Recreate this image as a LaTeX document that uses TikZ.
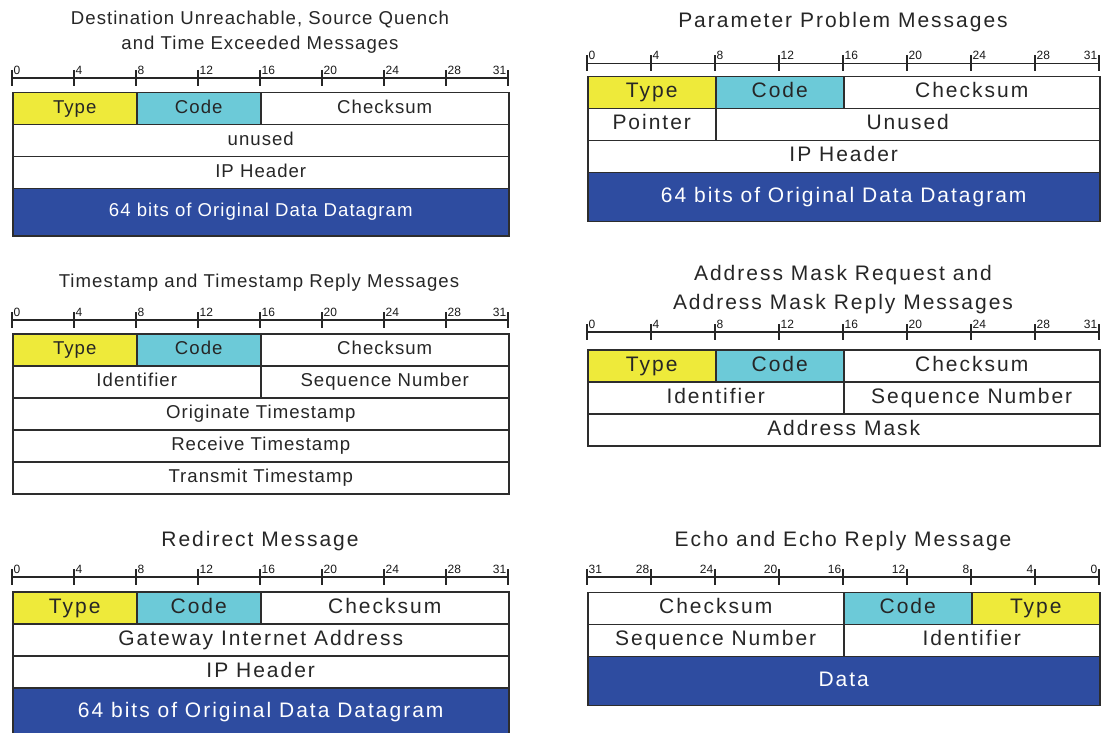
\documentclass[tikz,border=0pt]{standalone}
\usepackage{fontspec}
\setmainfont{Liberation Sans}
\newfontfamily\bigsans[LetterSpace=9.5]{Liberation Sans}
\newfontfamily\smallsans[LetterSpace=5.5]{Liberation Sans}

\definecolor{icmpyellow}{RGB}{238,234,58}
\definecolor{icmpcyan}{RGB}{108,202,216}
\definecolor{icmpblue}{RGB}{46,76,160}
\definecolor{fieldline}{RGB}{45,45,45}

\tikzset{
  field/.style={draw=fieldline, line width=1.5pt, inner sep=0pt, anchor=north west,
    minimum height=32pt, text=black!85},
  typefld/.style={field, fill=icmpyellow},
  codefld/.style={field, fill=icmpcyan},
  datafld/.style={field, fill=icmpblue, text=white},
  bigtxt/.style={font=\bigsans\fontsize{21}{29}\selectfont, text height=15pt, text depth=4.5pt},
  smalltxt/.style={font=\smallsans\fontsize{18.6}{25}\selectfont, text height=13.5pt, text depth=4pt},
  msgtitle/.style={align=center, inner sep=0pt, text=black!85},
  rulerline/.style={line width=1.2pt, black!85},
  bitlabel/.style={font=\fontsize{12}{12}\selectfont, inner sep=0pt, text=black!90}
}

% bit ruler 0..31, left to right: name, x, y, width of one bit
\newcommand{\bitruler}[4]{%
  \draw[rulerline] (#2,#3) -- ({#2+32*#4},#3);
  \foreach \k in {0,...,8}{
    \draw[rulerline] ({#2+4*\k*#4},#3-8) -- ({#2+4*\k*#4},#3+8);}
  \foreach \i in {0,4,...,28}
    \node[bitlabel,anchor=base west] (#1-\i) at ({#2+\i*#4+1.5},#3-3.5) {\i};
  \node[bitlabel,anchor=base east] (#1-31) at ({#2+32*#4-1.5},#3-3.5) {31};
}
% bit ruler 31..0, left to right
\newcommand{\revruler}[4]{%
  \draw[rulerline] (#2,#3) -- ({#2+32*#4},#3);
  \foreach \k in {0,...,8}{
    \draw[rulerline] ({#2+4*\k*#4},#3-8) -- ({#2+4*\k*#4},#3+8);}
  \node[bitlabel,anchor=base west] (#1-31) at ({#2+1.5},#3-3.5) {31};
  \foreach \k [evaluate=\k as \b using int(32-4*\k)] in {1,...,8}
    \node[bitlabel,anchor=base east] (#1-\b) at ({#2+4*\k*#4-1.5},#3-3.5) {\b};
}

\begin{document}
\begin{tikzpicture}[x=1pt,y=-1pt]
  \useasboundingbox (0,0) rectangle (1104,733);
  \clip (0,0) rectangle (1104,733);

  % Destination Unreachable
  \node[msgtitle,smalltxt,text height=,text depth=] (du-title) at (260,32.5)
    {Destination Unreachable, Source Quench\\and Time Exceeded Messages};
  \bitruler{du}{12}{78}{15.5}
  \node[typefld,smalltxt,minimum width=124pt] (du-type) at (12,92) {Type};
  \node[codefld,smalltxt,minimum width=124pt] (du-code) at (136,92) {Code};
  \node[field,smalltxt,minimum width=248pt] (du-sum) at (260,92) {Checksum};
  \node[field,smalltxt,minimum width=496pt] (du-unused) at (12,124) {unused};
  \node[field,smalltxt,minimum width=496pt] (du-iphdr) at (12,156) {IP Header};
  \node[datafld,smalltxt,minimum width=496pt,minimum height=47pt] (du-data) at (12,188)
    {64 bits of Original Data Datagram};

  % Parameter Problem
  \node[msgtitle,bigtxt,text height=,text depth=] (pp-title) at (843,22) {Parameter Problem Messages};
  \bitruler{pp}{587}{63.5}{16}
  \node[typefld,bigtxt,minimum width=128pt] (pp-type) at (587,76) {Type};
  \node[codefld,bigtxt,minimum width=128pt] (pp-code) at (715,76) {Code};
  \node[field,bigtxt,minimum width=256pt] (pp-sum) at (843,76) {Checksum};
  \node[field,bigtxt,minimum width=128pt] (pp-ptr) at (587,108) {Pointer};
  \node[field,bigtxt,minimum width=384pt] (pp-unused) at (715,108) {Unused};
  \node[field,bigtxt,minimum width=512pt] (pp-iphdr) at (587,140) {IP Header};
  \node[datafld,bigtxt,minimum width=512pt,minimum height=49pt] (pp-data) at (587,172)
    {64 bits of Original Data Datagram};

  % Timestamp
  \node[msgtitle,smalltxt,text height=,text depth=] (ts-title) at (259,283)
    {Timestamp and Timestamp Reply Messages};
  \bitruler{ts}{12}{320}{15.5}
  \node[typefld,smalltxt,minimum width=124pt] (ts-type) at (12,333) {Type};
  \node[codefld,smalltxt,minimum width=124pt] (ts-code) at (136,333) {Code};
  \node[field,smalltxt,minimum width=248pt] (ts-sum) at (260,333) {Checksum};
  \node[field,smalltxt,minimum width=248pt] (ts-id) at (12,365) {Identifier};
  \node[field,smalltxt,minimum width=248pt] (ts-seq) at (260,365) {Sequence Number};
  \node[field,smalltxt,minimum width=496pt] (ts-orig) at (12,397) {Originate Timestamp};
  \node[field,smalltxt,minimum width=496pt] (ts-recv) at (12,429) {Receive Timestamp};
  \node[field,smalltxt,minimum width=496pt] (ts-xmit) at (12,461) {Transmit Timestamp};

  % Address Mask
  \node[msgtitle,bigtxt,text height=,text depth=] (am-title) at (843,289.5)
    {Address Mask Request and\\Address Mask Reply Messages};
  \bitruler{am}{587}{332}{16}
  \node[typefld,bigtxt,minimum width=128pt] (am-type) at (587,349) {Type};
  \node[codefld,bigtxt,minimum width=128pt] (am-code) at (715,349) {Code};
  \node[field,bigtxt,minimum width=256pt] (am-sum) at (843,349) {Checksum};
  \node[field,bigtxt,minimum width=256pt] (am-id) at (587,381) {Identifier};
  \node[field,bigtxt,minimum width=256pt] (am-seq) at (843,381) {Sequence Number};
  \node[field,bigtxt,minimum width=512pt] (am-mask) at (587,413) {Address Mask};

  % Redirect
  \node[msgtitle,bigtxt,text height=,text depth=] (rd-title) at (260,541) {Redirect Message};
  \bitruler{rd}{12}{577}{15.5}
  \node[typefld,bigtxt,minimum width=124pt] (rd-type) at (12,591) {Type};
  \node[codefld,bigtxt,minimum width=124pt] (rd-code) at (136,591) {Code};
  \node[field,bigtxt,minimum width=248pt] (rd-sum) at (260,591) {Checksum};
  \node[field,bigtxt,minimum width=496pt] (rd-gw) at (12,623) {Gateway Internet Address};
  \node[field,bigtxt,minimum width=496pt] (rd-iphdr) at (12,655) {IP Header};
  \node[datafld,bigtxt,minimum width=496pt,minimum height=54pt] (rd-data) at (12,687)
    {\raisebox{2.5pt}{64 bits of Original Data Datagram}};

  % Echo
  \node[msgtitle,bigtxt,text height=,text depth=] (ec-title) at (843,541) {Echo and Echo Reply Message};
  \revruler{ec}{587}{577}{16}
  \node[field,bigtxt,minimum width=256pt] (ec-sum) at (587,591.5) {Checksum};
  \node[codefld,bigtxt,minimum width=128pt] (ec-code) at (843,591.5) {Code};
  \node[typefld,bigtxt,minimum width=128pt] (ec-type) at (971,591.5) {Type};
  \node[field,bigtxt,minimum width=256pt] (ec-seq) at (587,623.5) {Sequence Number};
  \node[field,bigtxt,minimum width=256pt] (ec-id) at (843,623.5) {Identifier};
  \node[datafld,bigtxt,minimum width=512pt,minimum height=49pt] (ec-data) at (587,655.5) {Data};
\end{tikzpicture}
\end{document}
